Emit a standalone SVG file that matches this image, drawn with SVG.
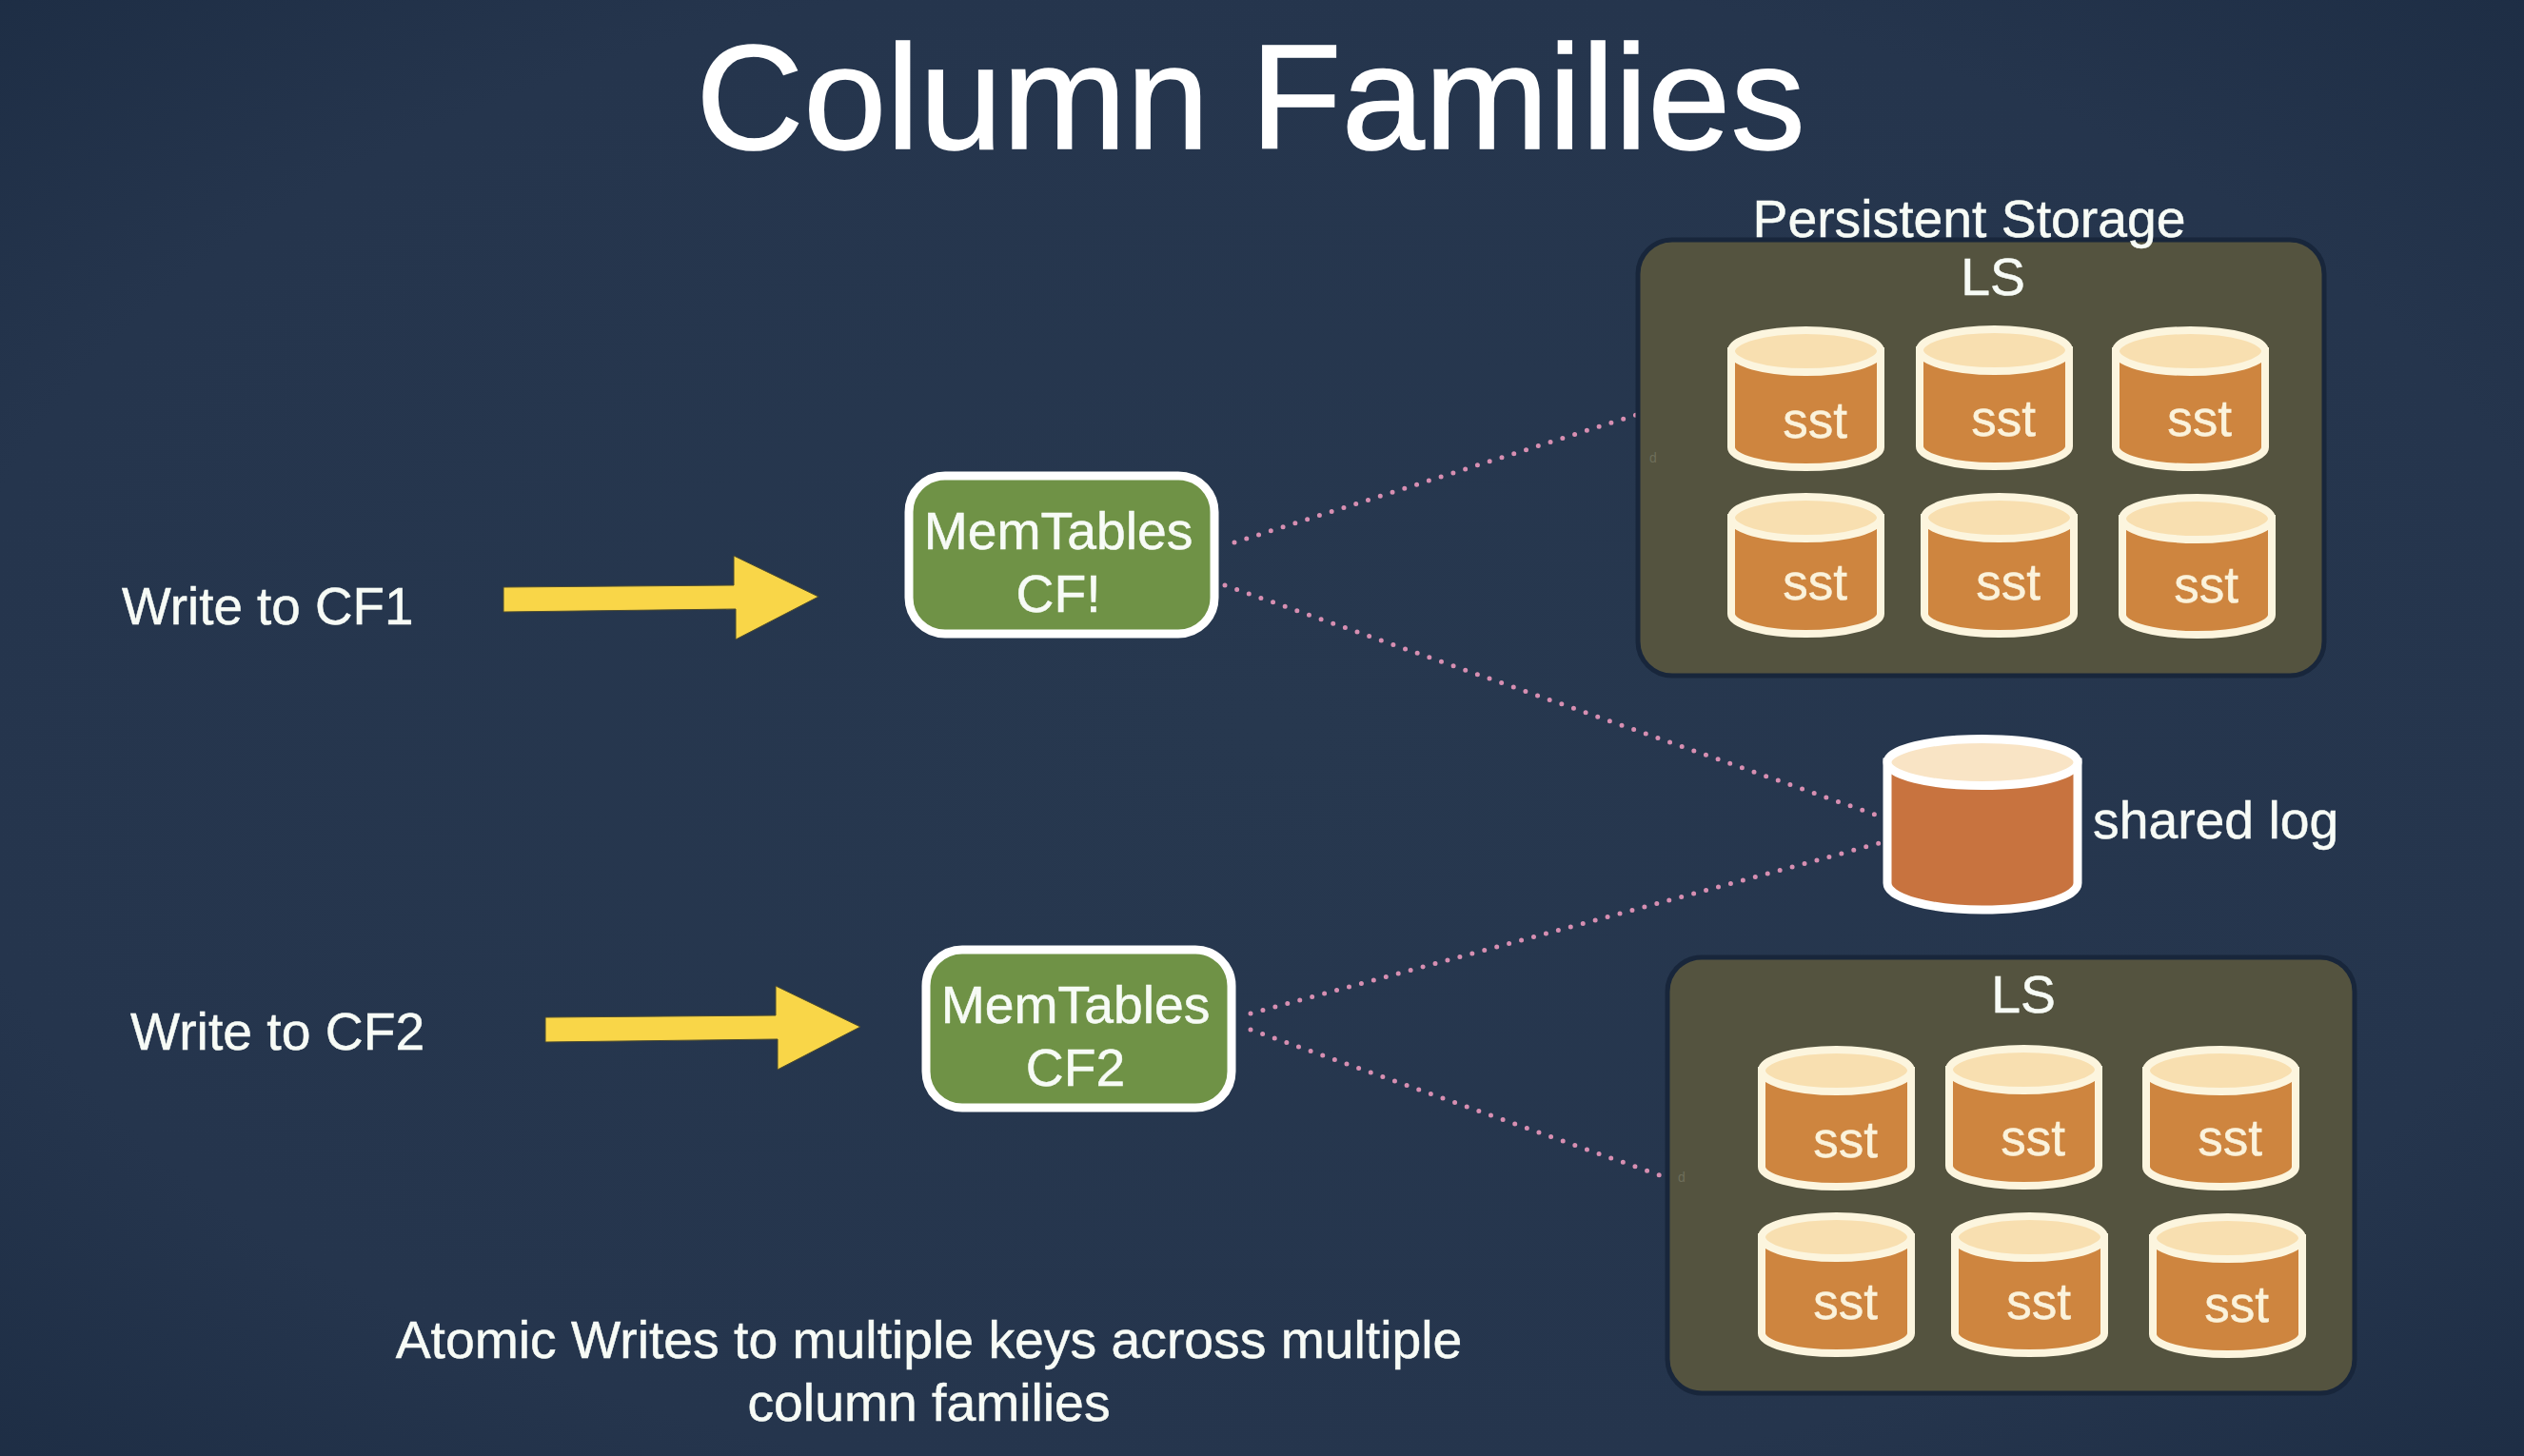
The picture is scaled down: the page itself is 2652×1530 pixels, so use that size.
<svg xmlns="http://www.w3.org/2000/svg" width="2652" height="1530" viewBox="0 0 2652 1530">
<style>
text{font-family:"Liberation Sans",Arial,sans-serif;fill:#f7fbf6;font-size:55.3px;stroke:#f7fbf6;stroke-width:0.5px}
.c{text-anchor:middle}
.title{font-size:156.5px;fill:#fff;stroke:#fff;stroke-width:1.5px}
.panel{fill:#54533f;stroke:#18263b;stroke-width:5}
.mem{fill:#6f9246;stroke:#fff;stroke-width:9}
.dot{fill:none;stroke:#d78fb2;stroke-width:5;stroke-linecap:round;stroke-dasharray:0 13.4}
.arrow{fill:#f9d648;stroke:#4b4a30;stroke-width:1}
.sst{font-size:53px;fill:#fbf3dc;stroke:#fbf3dc}
.ghost{font-size:14px;fill:#6e6e5a;stroke:none}
</style>
<defs>
<radialGradient id="bg" cx="50%" cy="50%" r="75%">
<stop offset="0" stop-color="#27384f"/>
<stop offset="0.7" stop-color="#25354d"/>
<stop offset="1" stop-color="#1c2c43"/>
</radialGradient>
<g id="cyl">
<path d="M4 26V127A78.5 21 0 0 0 161 127V26Z" fill="#ce853f" stroke="#fcf5de" stroke-width="8"/>
<ellipse cx="82.5" cy="26" rx="78.5" ry="22" fill="#f8dfb0" stroke="#fcf5de" stroke-width="8"/>
</g>
</defs>
<rect width="2652" height="1530" fill="url(#bg)"/>
<text id="title" class="c title" x="1314" y="156">Column Families</text>
<g id="connectors">
<path class="dot" d="M1297 570L1722 435"/>
<path class="dot" d="M1287 615L1970 856"/>
<path class="dot" d="M1314 1065L1975 886"/>
<path class="dot" d="M1314 1082L1752 1238"/>
</g>
<g id="arrow-cf1"><path class="arrow" d="M529 617L771 615V584L860 627L773 672V640L529 643Z"/></g>
<g id="arrow-cf2"><path class="arrow" d="M573 1069L815 1067V1036L904 1079L817 1124V1092L573 1095Z"/></g>
<text id="write-cf1" x="128" y="656" style="font-size:54.8px">Write to CF1</text>
<text id="write-cf2" x="137" y="1103">Write to CF2</text>
<g id="memtables-cf1">
<rect class="mem" x="955" y="500" width="321" height="166" rx="38"/>
<text class="c" x="1112" y="577">MemTables</text>
<text class="c" x="1112" y="643">CF!</text>
</g>
<g id="memtables-cf2">
<rect class="mem" x="973" y="998" width="321" height="166" rx="38"/>
<text class="c" x="1130" y="1075">MemTables</text>
<text class="c" x="1130" y="1141">CF2</text>
</g>
<g id="ls-top">
<rect class="panel" x="1721" y="252" width="721" height="458" rx="36"/>
<text class="c" x="2094" y="310">LS</text>
<use href="#cyl" x="1815" y="343"/><text class="c sst" x="1907" y="460">sst</text>
<use href="#cyl" x="2013" y="342"/><text class="c sst" x="2105" y="458">sst</text>
<use href="#cyl" x="2219" y="343"/><text class="c sst" x="2311" y="458">sst</text>
<use href="#cyl" x="1815" y="518"/><text class="c sst" x="1907" y="630">sst</text>
<use href="#cyl" x="2018" y="518"/><text class="c sst" x="2110" y="630">sst</text>
<use href="#cyl" x="2226" y="519"/><text class="c sst" x="2318" y="633">sst</text>
<text class="ghost" x="1733" y="486">d</text>
</g>
<text id="persistent-storage" class="c" x="2069" y="249">Persistent Storage</text>
<g id="shared-log">
<path d="M1983 801V928A100 28 0 0 0 2183 928V801Z" fill="#c8733f" stroke="#fff" stroke-width="9"/>
<ellipse cx="2083" cy="801" rx="100" ry="24.5" fill="#f9e4c5" stroke="#fff" stroke-width="9"/>
<text x="2199" y="881">shared log</text>
</g>
<g id="ls-bottom">
<rect class="panel" x="1752" y="1006" width="722" height="458" rx="36"/>
<text class="c" x="2126" y="1064">LS</text>
<use href="#cyl" x="1847" y="1099"/><text class="c sst" x="1939" y="1216">sst</text>
<use href="#cyl" x="2044" y="1098"/><text class="c sst" x="2136" y="1214">sst</text>
<use href="#cyl" x="2251" y="1099"/><text class="c sst" x="2343" y="1214">sst</text>
<use href="#cyl" x="1847" y="1274"/><text class="c sst" x="1939" y="1386">sst</text>
<use href="#cyl" x="2050" y="1274"/><text class="c sst" x="2142" y="1386">sst</text>
<use href="#cyl" x="2258" y="1275"/><text class="c sst" x="2350" y="1389">sst</text>
<text class="ghost" x="1763" y="1242">d</text>
</g>
<g id="caption">
<text class="c" x="976" y="1427">Atomic Writes to multiple keys across multiple</text>
<text class="c" x="976" y="1493">column families</text>
</g>
</svg>
